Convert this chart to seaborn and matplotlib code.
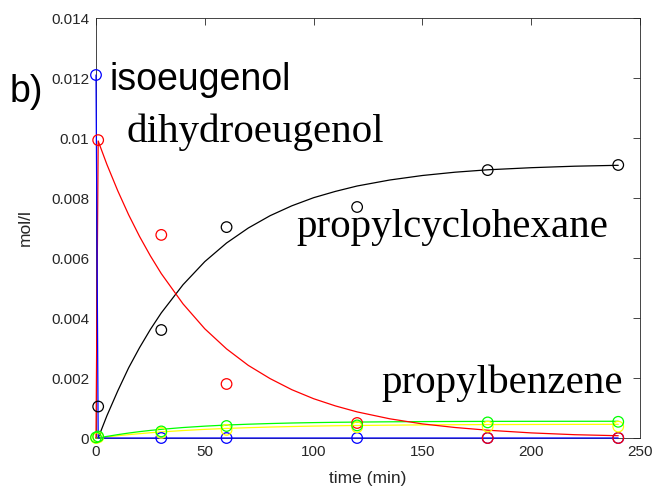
import numpy as np
import pandas as pd
import matplotlib
matplotlib.use("Agg")
import matplotlib.pyplot as plt
import seaborn as sns

# ---------------- data ----------------
# measured points
t_blue = [0, 30, 60, 120, 180, 240]
y_blue = [0.0121, 0.0, 0.0, 0.0, 0.0, 0.0]

t_meas = [1, 30, 60, 120, 180, 240]
y_red = [0.00993, 0.00677, 0.0018, 0.0005, 0.0, 0.0]
y_black = [0.00105, 0.0036, 0.00703, 0.0077, 0.00893, 0.0091]

t_minor = [0, 1, 30, 60, 120, 180, 240]
y_green = [0.00002, 0.00005, 0.00022, 0.0004, 0.00042, 0.00052, 0.00054]
y_yellow = [0.0, 0.00002, 0.00017, 0.00027, 0.00036, 0.00038, 0.00038]

# model curves
t_fit = [0, 1, 5, 10, 15, 20, 25, 30, 40, 50, 60, 70, 80, 90, 100, 110,
         120, 135, 150, 165, 180, 200, 220, 240]
fit_blue = [0.0121, 0.0] + [0.0] * 22
fit_red = [0.0, 0.0099, 0.00912, 0.00824, 0.00744, 0.00672, 0.00607, 0.00548,
           0.00447, 0.00364, 0.00297, 0.00242, 0.00198, 0.00161, 0.00131,
           0.00107, 0.00087, 0.00064, 0.00047, 0.00035, 0.00026, 0.00017,
           0.00011, 0.000076]
fit_black = [0.0, 0.0, 0.00074, 0.00157, 0.00234, 0.00301, 0.00362, 0.00417,
             0.00511, 0.00588, 0.0065, 0.007, 0.00741, 0.00774, 0.00801,
             0.00822, 0.0084, 0.0086, 0.00875, 0.00886, 0.00894, 0.00901,
             0.00906, 0.00909]
fit_green = [0.0, 0.0, 0.000053, 0.000112, 0.000165, 0.000212, 0.000253,
             0.000289, 0.000349, 0.000395, 0.000432, 0.00046, 0.000482,
             0.0005, 0.000513, 0.000523, 0.000531, 0.00054, 0.000547,
             0.000551, 0.000554, 0.000556, 0.000557, 0.000558]
fit_yellow = [0.0, 0.0, 0.000035, 0.000076, 0.000112, 0.000145, 0.000175,
              0.000202, 0.000249, 0.000288, 0.000319, 0.000344, 0.000365,
              0.000382, 0.000397, 0.000408, 0.000417, 0.000428, 0.000437,
              0.000443, 0.000447, 0.000451, 0.000454, 0.000456]

x_ticks = [0, 50, 100, 150, 200, 250]
y_ticks = [0, 0.002, 0.004, 0.006, 0.008, 0.01, 0.012, 0.014]
y_ticklabels = ["0", "0.002", "0.004", "0.006", "0.008", "0.01", "0.012", "0.014"]

colors = {"blue": "#0000ff", "red": "#ff0000", "black": "#000000",
          "yellow": "#ffff00", "green": "#00ff00"}

# ---------------- plotting ----------------
sns.set_style("white")
plt.rcParams["font.family"] = ["Liberation Sans", "DejaVu Sans"]

fig = plt.figure(figsize=(6.56, 4.92), dpi=100)
ax = fig.add_axes([96 / 656, 54 / 492, 544 / 656, 420 / 492])

fits = pd.DataFrame({
    "t": t_fit * 5,
    "c": fit_blue + fit_red + fit_black + fit_yellow + fit_green,
    "s": (["blue"] * len(t_fit) + ["red"] * len(t_fit) + ["black"] * len(t_fit)
          + ["yellow"] * len(t_fit) + ["green"] * len(t_fit)),
})
for name in ["black", "yellow", "green", "red", "blue"]:
    sub = fits[fits["s"] == name]
    sns.lineplot(data=sub, x="t", y="c", ax=ax, color=colors[name],
                 linewidth=0.9, sort=False, estimator=None, legend=False,
                 clip_on=False, zorder=4)

meas = [("blue", t_blue, y_blue), ("red", t_meas, y_red),
        ("black", t_meas, y_black), ("yellow", t_minor, y_yellow),
        ("green", t_minor, y_green)]
for name, tt, yy in meas:
    sns.scatterplot(x=tt, y=yy, ax=ax, marker="o", s=58,
                    facecolors="none", edgecolors=colors[name],
                    linewidth=0.9, legend=False, zorder=5, clip_on=False)

ax.set_xlim(0, 250)
ax.set_ylim(0, 0.014)
ax.set_xticks(x_ticks)
ax.set_xticklabels([str(v) for v in x_ticks])
ax.set_yticks(y_ticks)
ax.set_yticklabels(y_ticklabels)

frame_c = "#262626"
for sp in ax.spines.values():
    sp.set_visible(True)
    sp.set_color(frame_c)
    sp.set_linewidth(0.6)
    sp.set_zorder(2)
ax.tick_params(direction="in", top=True, right=True, length=5, width=0.6,
               color=frame_c, labelsize=11, labelcolor=frame_c, pad=5)

ax.set_xlabel("time (min)", fontsize=12.5, color=frame_c)
ax.set_ylabel("mol/l", fontsize=12.5, color=frame_c)
ax.xaxis.set_label_coords(0.5, -0.078)
ax.yaxis.set_label_coords(-0.116, 0.5)

serif = ["Liberation Serif", "DejaVu Serif"]
ax.text(6.0, 0.0116, "isoeugenol", fontsize=27, va="baseline", ha="left",
        family=["Liberation Sans", "DejaVu Sans"], color="black")
ax.text(13.8, 0.00987, "dihydroeugenol", fontsize=29.5, va="baseline",
        ha="left", family=serif, color="black")
ax.text(92.0, 0.00671, "propylcyclohexane", fontsize=29.5, va="baseline",
        ha="left", family=serif, color="black")
ax.text(131.0, 0.0015, "propylbenzene", fontsize=29.5, va="baseline",
        ha="left", family=serif, color="black")
fig.text(10 / 656, 1 - 102 / 492, "b)", fontsize=27, va="baseline",
         ha="left", family=["Liberation Sans", "DejaVu Sans"], color="black")

fig.savefig("out.png", dpi=100)
